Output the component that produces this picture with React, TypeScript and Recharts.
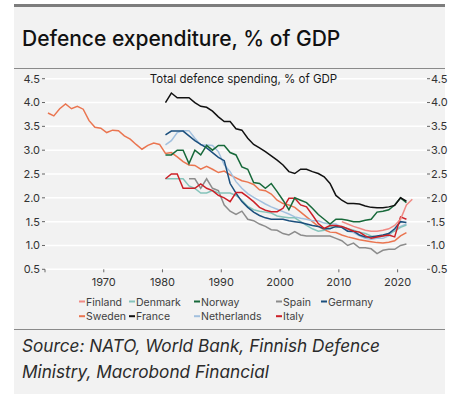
import { LineChart, Line, XAxis, YAxis, CartesianGrid } from 'recharts';

const FONT = 'Inter, "Noto Sans", sans-serif';

// % of GDP, one value per year from the given start year
const SWEDEN_START = 1960;
const sweden = [
  3.78, 3.72, 3.87, 3.97, 3.87, 3.92, 3.86, 3.62, 3.48, 3.46,
  3.37, 3.42, 3.41, 3.3, 3.23, 3.12, 3.02, 3.1, 3.15, 3.12,
  2.93, 2.95, 2.86, 2.76, 2.69, 2.68, 2.6, 2.66, 2.6, 2.53,
  2.56, 2.48, 2.42, 2.36, 2.33, 2.28, 2.17, 2.15, 2.08, 1.95,
  1.88, 1.85, 1.8, 1.7, 1.6, 1.5, 1.4, 1.33, 1.28, 1.27,
  1.22, 1.18, 1.15, 1.12, 1.1, 1.08, 1.06, 1.05, 1.07, 1.1,
  1.2, 1.27,
];

const NATO_START = 1980;
const france = [
  4.0, 4.2, 4.1, 4.1, 4.1, 4.0, 3.92, 3.9, 3.82, 3.7,
  3.6, 3.6, 3.45, 3.42, 3.25, 3.12, 3.05, 2.97, 2.88, 2.79,
  2.69, 2.55, 2.51, 2.6, 2.6, 2.55, 2.51, 2.44, 2.3, 2.05,
  1.95, 1.88, 1.88, 1.87, 1.83, 1.8, 1.79, 1.79, 1.81, 1.84,
  2.0, 1.93,
];
const norway = [
  2.9, 2.9, 3.0, 3.0, 2.72, 3.0, 2.9, 3.1, 3.0, 3.1,
  3.1, 2.95, 2.9, 2.65, 2.6, 2.32, 2.3, 2.2, 2.3, 2.13,
  1.95, 1.75, 2.0, 1.95, 1.9, 1.78, 1.65, 1.55, 1.45, 1.55,
  1.55, 1.53, 1.5, 1.5, 1.53, 1.55, 1.7, 1.72, 1.75, 1.85,
  2.0, 1.9,
];
const germany = [
  3.32, 3.4, 3.4, 3.4, 3.3, 3.2, 3.12, 3.05, 2.95, 2.85,
  2.78, 2.3, 2.1, 1.92, 1.8, 1.7, 1.63, 1.58, 1.55, 1.55,
  1.55, 1.52, 1.5, 1.48, 1.45, 1.42, 1.4, 1.35, 1.35, 1.4,
  1.38, 1.3, 1.3, 1.22, 1.18, 1.18, 1.2, 1.22, 1.25, 1.35,
  1.5, 1.48,
];
const netherlands = [
  3.11, 3.2, 3.37, 3.41, 3.41, 3.25, 3.11, 3.11, 3.1, 2.97,
  2.69, 2.55, 2.34, 2.2, 2.09, 2.01, 1.94, 1.87, 1.81, 1.76,
  1.71, 1.66, 1.6, 1.57, 1.55, 1.52, 1.52, 1.47, 1.45, 1.45,
  1.38, 1.3, 1.27, 1.2, 1.15, 1.13, 1.15, 1.15, 1.2, 1.33,
  1.4, 1.45,
];
const denmark = [
  2.4, 2.4, 2.4, 2.4, 2.25, 2.2, 2.1, 2.1, 2.15, 2.1,
  2.1, 2.1, 2.05, 1.95, 1.82, 1.75, 1.72, 1.7, 1.68, 1.62,
  1.6, 1.58, 1.58, 1.5, 1.42, 1.35, 1.3, 1.32, 1.4, 1.38,
  1.4, 1.35, 1.32, 1.28, 1.25, 1.2, 1.18, 1.2, 1.25, 1.3,
  1.38, 1.43,
];
const italy = [
  2.4, 2.5, 2.5, 2.2, 2.2, 2.2, 2.29, 2.2, 2.15, 2.05,
  2.0, 1.92, 2.11, 2.11, 2.02, 1.92, 1.8, 1.74, 1.71, 1.71,
  1.78, 1.99, 1.99, 1.85, 1.81, 1.64, 1.46, 1.36, 1.42, 1.42,
  1.4, 1.35, 1.3, 1.28, 1.2, 1.15, 1.18, 1.2, 1.22, 1.18,
  1.6, 1.55,
];

const SPAIN_START = 1984;
const spain = [
  2.4, 2.4, 2.2, 2.4, 2.2, 2.15,
  1.85, 1.72, 1.65, 1.72, 1.55, 1.52, 1.45, 1.4, 1.33, 1.32,
  1.25, 1.22, 1.29, 1.22, 1.2, 1.2, 1.2, 1.2, 1.2, 1.15,
  1.1, 1.0, 1.05, 0.95, 0.95, 0.93, 0.83, 0.9, 0.92, 0.92,
  1.0, 1.03,
];

const FINLAND_START = 2010;
const finland = [1.5, 1.45, 1.4, 1.36, 1.32, 1.3, 1.3, 1.32, 1.35, 1.42, 1.55, 1.85, 1.97];

const FIRST_YEAR = 1960;
const LAST_YEAR = 2022;
const xTicks = [1960, 1970, 1980, 1990, 2000, 2010, 2020];
const yTicks = [0.5, 1, 1.5, 2, 2.5, 3, 3.5, 4, 4.5];

type Series = { key: string; name: string; color: string; start: number; values: number[]; axis: string };

// drawing order, back to front; both value axes share one scale
const SERIES: Series[] = [
  { key: 'spain', name: 'Spain', color: '#8c8c8c', start: SPAIN_START, values: spain, axis: 'l' },
  { key: 'sweden', name: 'Sweden', color: '#ea7550', start: SWEDEN_START, values: sweden, axis: 'l' },
  { key: 'netherlands', name: 'Netherlands', color: '#a2c0de', start: NATO_START, values: netherlands, axis: 'l' },
  { key: 'denmark', name: 'Denmark', color: '#85c4bb', start: NATO_START, values: denmark, axis: 'l' },
  { key: 'germany', name: 'Germany', color: '#1b4f7d', start: NATO_START, values: germany, axis: 'l' },
  { key: 'italy', name: 'Italy', color: '#cc2027', start: NATO_START, values: italy, axis: 'l' },
  { key: 'norway', name: 'Norway', color: '#17693a', start: NATO_START, values: norway, axis: 'l' },
  { key: 'france', name: 'France', color: '#111111', start: NATO_START, values: france, axis: 'r' },
  { key: 'finland', name: 'Finland', color: '#f08a84', start: FINLAND_START, values: finland, axis: 'r' },
];

const byKey = Object.fromEntries(SERIES.map(s => [s.key, s]));

const legendRows = [
  ['finland', 'denmark', 'norway', 'spain', 'germany'],
  ['sweden', 'france', 'netherlands', 'italy'],
];
const legendCols = [79, 129, 194, 276, 321];

type Row = { year: number; x: number; [k: string]: number };

const rows: Row[] = [];
for (let y = FIRST_YEAR; y <= LAST_YEAR; y++) {
  // annual figures sit at mid-year
  const row: Row = { year: y, x: y + 0.5 };
  for (const s of SERIES) {
    const i = y - s.start;
    if (i >= 0 && i < s.values.length) row[s.key] = s.values[i];
  }
  rows.push(row);
}

const tickStyle = { fontSize: 11, fill: '#333', fontFamily: FONT };
const fmt = (v: number) => v.toFixed(1);

export default function App() {
  return (
    <div style={{ position: 'absolute', left: 0, top: 0, width: 449, height: 394, background: '#fff', fontFamily: FONT }}>
      <div style={{ position: 'absolute', left: 14, top: 4, width: 431, height: 390, background: '#f2f2f2' }} />
      <div style={{ position: 'absolute', left: 14, top: 4, width: 431, height: 3, background: '#7d7d7d' }} />
      <div style={{ position: 'absolute', left: 14, top: 68, width: 431, height: 1, background: '#8a8a8a' }} />
      <div style={{ position: 'absolute', left: 14, top: 329, width: 431, height: 1, background: '#8a8a8a' }} />

      <div style={{ position: 'absolute', left: 0, top: 0 }}>
        <LineChart width={449} height={300} data={rows} margin={{ top: 78.7, right: 0, bottom: 0, left: 0 }}>
          <CartesianGrid yAxisId="l" vertical={false} stroke="#ffffff" strokeWidth={1.5} />
          <XAxis
            dataKey="x"
            type="number"
            domain={[1960, 2025]}
            ticks={xTicks}
            tickFormatter={(v: number) => (v === 1960 ? '' : String(v))}
            height={30.7}
            axisLine={false}
            tickSize={3}
            tickMargin={6}
            tickLine={{ stroke: '#666' }}
            tick={tickStyle}
            allowDataOverflow
          />
          <YAxis
            yAxisId="l"
            domain={[0.5, 4.5]}
            ticks={yTicks}
            tickFormatter={fmt}
            width={45}
            axisLine={false}
            tickSize={3}
            tickMargin={2}
            tickLine={{ stroke: '#666' }}
            tick={tickStyle}
          />
          <YAxis
            yAxisId="r"
            orientation="right"
            domain={[0.5, 4.5]}
            ticks={yTicks}
            tickFormatter={fmt}
            width={22}
            axisLine={false}
            tickSize={3}
            tickMargin={1}
            tickLine={{ stroke: '#666' }}
            tick={tickStyle}
          />
          {SERIES.map(s => (
            <Line
              key={s.key}
              yAxisId={s.axis}
              dataKey={s.key}
              name={s.name}
              type="linear"
              stroke={s.color}
              strokeWidth={1.5}
              dot={false}
              activeDot={false}
              isAnimationActive={false}
            />
          ))}
        </LineChart>
      </div>

      <svg width={449} height={394} style={{ position: 'absolute', left: 0, top: 0, pointerEvents: 'none' }}>
        <text x={22} y={46} fontSize={21} fontWeight={500} fill="#111" fontFamily={FONT}>
          Defence expenditure, % of GDP
        </text>
        <text x={243.5} y={82.5} fontSize={11.5} fill="#1a1a1a" textAnchor="middle" fontFamily={FONT}>
          Total defence spending, % of GDP
        </text>
        {legendRows.map((row, r) =>
          row.map((k, c) => {
            const s = byKey[k];
            const x = legendCols[c];
            const y = 301.5 + r * 14.7;
            return (
              <g key={k}>
                <rect x={x} y={y - 1} width={6} height={2} fill={s.color} />
                <text x={x + 7} y={y + 4} fontSize={10.5} fill="#404040" fontFamily={FONT}>
                  {s.name}
                </text>
              </g>
            );
          })
        )}
        <text x={22} y={351.5} fontSize={17.2} fontStyle="italic" fill="#2b2b2b" fontFamily={FONT}>
          Source: NATO, World Bank, Finnish Defence
        </text>
        <text x={22} y={378} fontSize={17.2} fontStyle="italic" fill="#2b2b2b" fontFamily={FONT}>
          Ministry, Macrobond Financial
        </text>
      </svg>
    </div>
  );
}
